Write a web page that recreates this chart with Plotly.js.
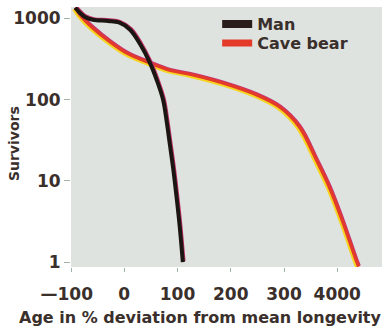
<!DOCTYPE html>
<html><head><meta charset="utf-8">
<script src="https://cdn.plot.ly/plotly-3.0.1.min.js"></script>
<style>html,body{margin:0;padding:0;background:#fff}#c{width:391px;height:327px}</style>
</head><body><div id="c"></div>
<script>
// Age in % deviation from mean longevity
var ageMan  = [-92, -83, -74, -59, -30, -10, 11, 30, 48, 61, 73, 80, 86, 92, 98, 104, 110];
var man     = [1350, 1165, 1040, 960, 930, 890, 725, 480, 285, 174, 99, 52, 27, 14, 6.5, 2.8, 1];
var ageBear = [-92, -83, -59, -27, 5, 48, 85, 123, 185, 249, 292, 329, 361, 385, 409, 435, 440];
var bear    = [1350, 1100, 760, 515, 373, 282, 230, 205, 160, 114, 81, 46, 18, 8.4, 3.3, 1.07, 0.88];
var xTickVals = [-100, 0, 100, 200, 300, 400];
var xTickText = ['\u2014100\u2002', '0', '100', '200', '300', '4000'];
var yTickVals = [1, 10, 100, 1000];
var yTickText = ['1', '10', '100', '1000'];
var seriesNames = ['Man', 'Cave bear'];

var font = 'DejaVu Sans, sans-serif';
var txt = '#3a2f2b';
var XR = [-100, 484], YR = [-0.06, 3.14];
var dx = 2.6, dy = 0.017;

function ov(sx, sy) {
  return [
    {overlaying: 'x', range: [XR[0] + sx, XR[1] + sx], visible: false},
    {overlaying: 'y', type: 'log', range: [YR[0] + sy, YR[1] + sy], visible: false}
  ];
}

var traces = [
  {x: ageBear, y: bear, xaxis: 'x2', yaxis: 'y2', mode: 'lines', line: {color: '#f4d420', width: 3.5, shape: 'spline'}, showlegend: false},
  {x: ageBear, y: bear, xaxis: 'x3', yaxis: 'y3', mode: 'lines', line: {color: '#c8346e', width: 3, shape: 'spline'}, showlegend: false},
  {x: ageBear, y: bear, xaxis: 'x4', yaxis: 'y4', mode: 'lines', line: {color: '#e33a2a', width: 3.2, shape: 'spline'}, showlegend: false},
  {x: ageMan, y: man, xaxis: 'x5', yaxis: 'y5', mode: 'lines', line: {color: '#c4306a', width: 3.5, shape: 'spline'}, showlegend: false},
  {x: ageMan, y: man, xaxis: 'x6', yaxis: 'y6', mode: 'lines', line: {color: '#1c1612', width: 4, shape: 'spline'}, showlegend: false},
  {x: [null], y: [null], mode: 'lines', name: seriesNames[0], legend: 'legend', line: {color: '#2a1e1a', width: 8}},
  {x: [null], y: [null], mode: 'lines', name: seriesNames[1], legend: 'legend2', line: {color: '#e33a2a', width: 7}}
];

var a2 = ov(dx, dy), a3 = ov(-dx * 0.6, -dy * 0.6), a4 = ov(0, 0),
    a5 = ov(-dx * 0.7, -dy * 0.7), a6 = ov(0, 0);

var legFont = {family: font, size: 16, color: txt, weight: 'bold'};
var layout = {
  width: 391, height: 327,
  margin: {l: 71, r: 9, t: 7, b: 60},
  paper_bgcolor: '#ffffff',
  plot_bgcolor: '#dee3e0',
  font: {family: font, color: txt, weight: 'bold'},
  showlegend: true,
  legend: {x: 0.47, y: 1.0, xanchor: 'left', yanchor: 'top', bgcolor: 'rgba(0,0,0,0)', font: legFont, itemwidth: 30},
  legend2: {x: 0.47, y: 0.927, xanchor: 'left', yanchor: 'top', bgcolor: 'rgba(0,0,0,0)', font: legFont, itemwidth: 30},
  xaxis: {range: XR, tickvals: xTickVals, ticktext: xTickText, showgrid: false, zeroline: false,
          showline: false, ticks: 'outside', ticklen: 4, tickcolor: '#9fb3a6', ticklabelstandoff: 8,
          tickfont: {family: font, size: 17, color: txt, weight: 'bold'}},
  yaxis: {type: 'log', range: YR, tickvals: yTickVals, ticktext: yTickText, showgrid: false, zeroline: false,
          showline: false, ticks: 'outside', ticklen: 6, tickcolor: '#9fb3a6', ticklabelstandoff: 0,
          tickfont: {family: font, size: 17, color: txt, weight: 'bold'}},
  xaxis2: a2[0], yaxis2: a2[1], xaxis3: a3[0], yaxis3: a3[1], xaxis4: a4[0], yaxis4: a4[1],
  xaxis5: a5[0], yaxis5: a5[1], xaxis6: a6[0], yaxis6: a6[1],
  annotations: [
    {text: 'Age in % deviation from mean longevity', xref: 'paper', yref: 'paper', x: 0.418, y: -0.196,
     xanchor: 'center', yanchor: 'middle', showarrow: false, font: {family: font, size: 16, color: txt, weight: 'bold'}},
    {text: 'Survivors', xref: 'paper', yref: 'paper', x: -0.183, y: 0.473, textangle: -90,
     xanchor: 'center', yanchor: 'middle', showarrow: false, font: {family: font, size: 14, color: txt, weight: 'bold'}}
  ]
};

Plotly.newPlot('c', traces, layout, {displayModeBar: false, staticPlot: true});
</script>
</body></html>
